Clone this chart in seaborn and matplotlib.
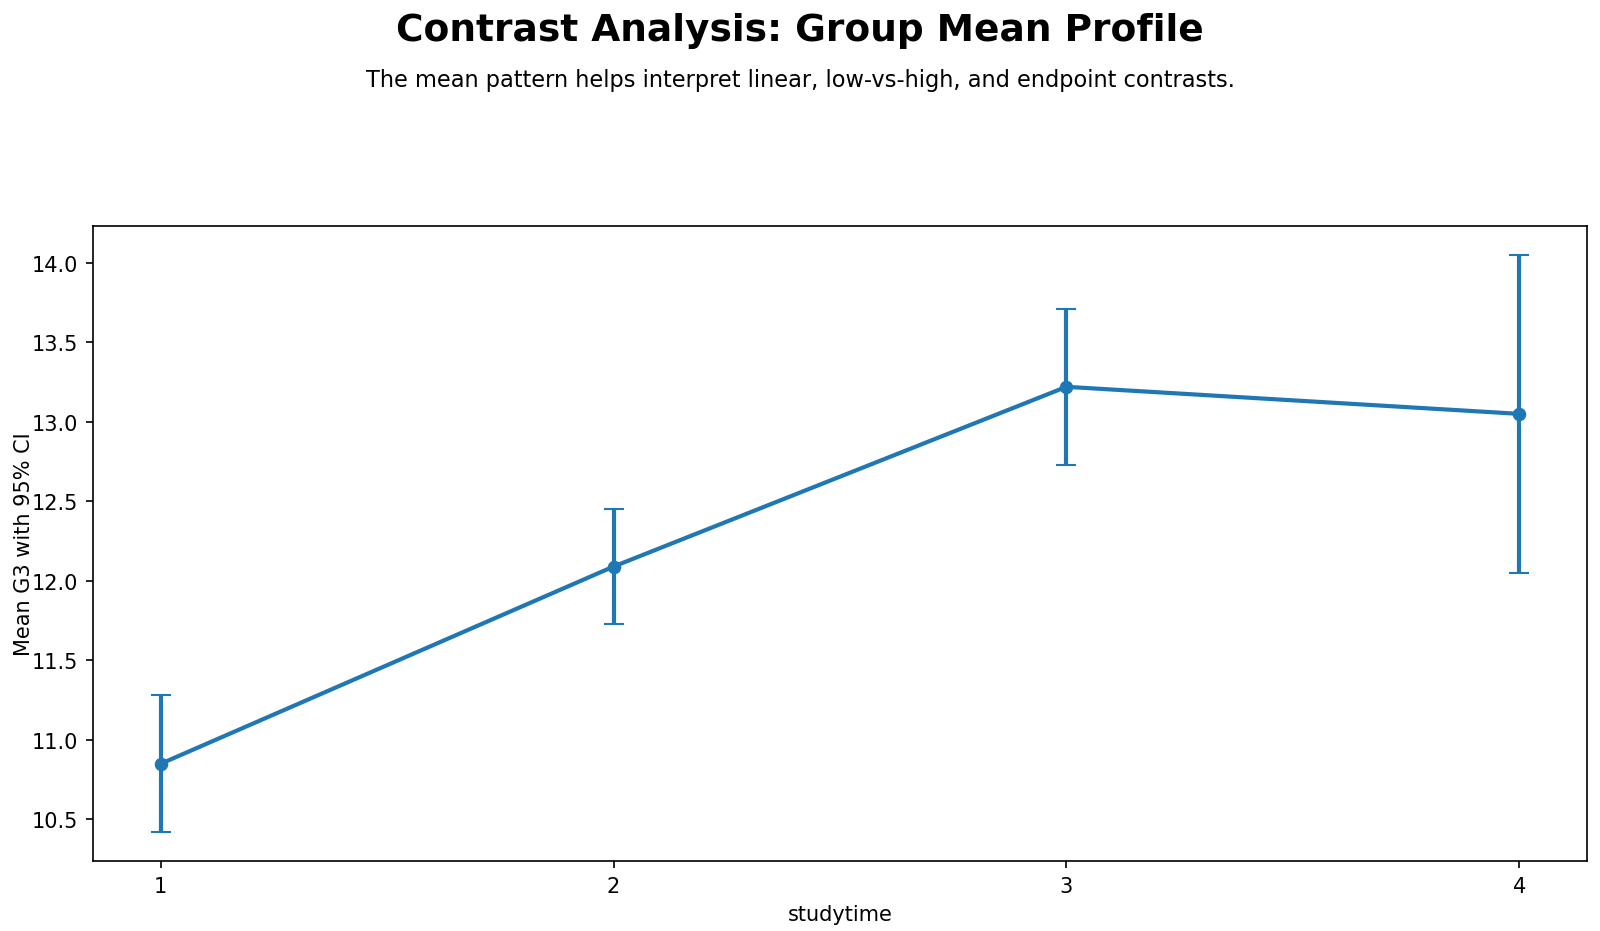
import numpy as np
import pandas as pd
import matplotlib
matplotlib.use("Agg")
import matplotlib.pyplot as plt
import seaborn as sns

# Group means of G3 by studytime, with 95% CI half-widths
studytime = [1, 2, 3, 4]
mean_g3 = [10.85, 12.09, 13.22, 13.05]
ci_half = [0.43, 0.363, 0.49, 1.0]

LINE_COLOR = "#1f77b4"

df = pd.DataFrame({"studytime": studytime, "mean": mean_g3, "ci": ci_half})

fig, ax = plt.subplots(figsize=(1600 / 150, 932 / 150), dpi=150)
fig.subplots_adjust(left=0.058, right=0.992, top=0.7565, bottom=0.0751)

# mean profile
sns.lineplot(data=df, x="studytime", y="mean", marker="o", color=LINE_COLOR,
             linewidth=2, markersize=6.5, markeredgewidth=0, ax=ax)

# 95% CI bars
ax.errorbar(df["studytime"], df["mean"], yerr=df["ci"], fmt="none",
            ecolor=LINE_COLOR, elinewidth=2, capsize=5)

ax.set_xticks(studytime)
ax.set_xticklabels([str(s) for s in studytime])
ax.set_xlabel("studytime")
ax.set_ylabel("Mean G3 with 95% CI", labelpad=-1)

fig.text(0.5, 1 - 31 / 932, "Contrast Analysis: Group Mean Profile",
         ha="center", va="center", fontsize=18, fontweight="bold")
fig.text(0.5, 1 - 81 / 932,
         "The mean pattern helps interpret linear, low-vs-high, and endpoint contrasts.",
         ha="center", va="center", fontsize=10.8)

fig.savefig("out.png", dpi=150, facecolor="white")
plt.close()
